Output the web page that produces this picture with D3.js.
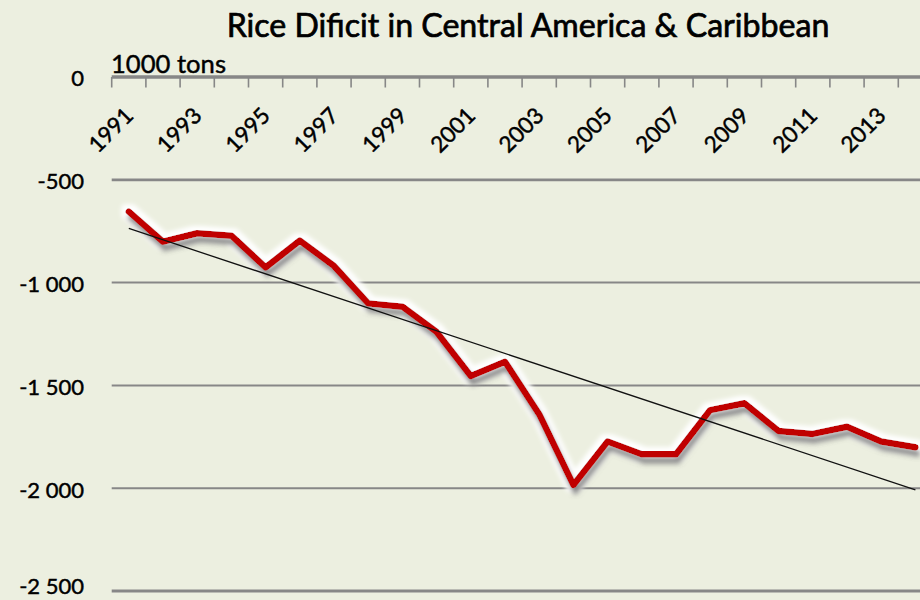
<!DOCTYPE html>
<html>
<head>
<meta charset="utf-8">
<script src="https://cdn.jsdelivr.net/npm/d3@7"></script>
<style>
  html, body { margin: 0; padding: 0; background: #ecefe0; }
  svg { display: block; }
  text { font-family: Lato, "Open Sans", sans-serif; fill: #000; stroke: #000; stroke-width: 0.45px; }
</style>
</head>
<body>
<svg id="chart" width="920" height="600"></svg>
<script>
// ---- data ----
const years = [1991,1992,1993,1994,1995,1996,1997,1998,1999,2000,2001,2002,
               2003,2004,2005,2006,2007,2008,2009,2010,2011,2012,2013,2014];
const deficit = [-655,-801,-760,-772,-926,-796,-919,-1101,-1117,-1240,-1454,-1385,
                 -1640,-1984,-1773,-1835,-1835,-1620,-1587,-1722,-1736,-1701,-1773,-1801];
const yTicks = [0,-500,-1000,-1500,-2000,-2500];
const xLabelYears = [1991,1993,1995,1997,1999,2001,2003,2005,2007,2009,2011,2013];
const titleText = "Rice Dificit in Central America & Caribbean";
const unitText = "1000 tons";

// ---- layout ----
const W = 920, H = 600;
const svg = d3.select("#chart");
svg.append("rect").attr("width", W).attr("height", H).attr("fill", "#ecefe0");

const x = d3.scaleBand().domain(years).range([111.7, 111.7 + 34.2 * years.length]).padding(0);
const y = d3.scaleLinear().domain([-2500, 0]).range([591, 77]);
const cx = d => x(d) + x.bandwidth() / 2;

const loc = d3.formatLocale({decimal: ",", thousands: " ", grouping: [3], currency: ["", ""], minus: "-"});
const fmt = loc.format(",d");

// filter for line shadow/glow
const defs = svg.append("defs");
const f = defs.append("filter").attr("id", "sh")
  .attr("x", "-10%").attr("y", "-20%").attr("width", "120%").attr("height", "140%");
f.append("feMorphology").attr("in", "SourceAlpha").attr("operator", "dilate").attr("radius", 3.5).attr("result", "dil");
f.append("feGaussianBlur").attr("in", "dil").attr("stdDeviation", 2).attr("result", "glowb");
f.append("feFlood").attr("flood-color", "#ffffff").attr("result", "white");
f.append("feComposite").attr("in", "white").attr("in2", "glowb").attr("operator", "in").attr("result", "glow");
f.append("feGaussianBlur").attr("in", "SourceAlpha").attr("stdDeviation", 2.5).attr("result", "b");
f.append("feOffset").attr("in", "b").attr("dx", 2).attr("dy", 6).attr("result", "ob");
f.append("feFlood").attr("flood-color", "#555555").attr("flood-opacity", 0.85).attr("result", "gray");
f.append("feComposite").attr("in", "gray").attr("in2", "ob").attr("operator", "in").attr("result", "shadow");
const m = f.append("feMerge");
m.append("feMergeNode").attr("in", "glow");
m.append("feMergeNode").attr("in", "shadow");
m.append("feMergeNode").attr("in", "SourceGraphic");

// gridlines
const gw = {"0": 3.5, "-500": 2.8, "-2500": 3};
svg.append("g").selectAll("line").data(yTicks).join("line")
  .attr("x1", 111.7).attr("x2", W)
  .attr("y1", d => y(d)).attr("y2", d => y(d))
  .attr("stroke", "#878787")
  .attr("stroke-width", d => gw[String(d)] || 2);

// y axis labels
const yAxis = d3.axisLeft(y).tickValues(yTicks).tickFormat(fmt).tickSize(0).tickPadding(0);
const gy = svg.append("g").attr("transform", "translate(84,1)").call(yAxis);
gy.select(".domain").remove();
gy.selectAll("text").attr("font-size", 22).attr("font-family", "Lato, 'Open Sans', sans-serif")
  .attr("fill", "#000").attr("dy", d => d === -2500 ? "0.05em" : "0.36em");

// x axis ticks at category boundaries (top)
svg.append("g").selectAll("line").data(years).join("line")
  .attr("x1", d => x(d)).attr("x2", d => x(d))
  .attr("y1", 77).attr("y2", 87.5)
  .attr("stroke", "#878787").attr("stroke-width", 1.6);

// x labels
svg.append("g").selectAll("text").data(xLabelYears).join("text")
  .attr("transform", d => `translate(${cx(d) + 6},117) rotate(-45)`)
  .attr("text-anchor", "end")
  .attr("font-size", 22.5)
  .text(d => d);

// red line
const line = d3.line().x((d, i) => cx(years[i])).y(d => y(d));
svg.append("path").datum(deficit)
  .attr("d", line)
  .attr("fill", "none")
  .attr("stroke", "#c00000")
  .attr("stroke-width", 6.5)
  .attr("stroke-linejoin", "round")
  .attr("stroke-linecap", "round")
  .attr("filter", "url(#sh)");

// linear trendline (least squares on the data)
const n = deficit.length;
const mi = d3.mean(d3.range(n)), mv = d3.mean(deficit);
let sxy = 0, sxx = 0;
deficit.forEach((v, i) => { sxy += (i - mi) * (v - mv); sxx += (i - mi) * (i - mi); });
const slope = sxy / sxx, icpt = mv - slope * mi;
svg.append("line")
  .attr("x1", cx(years[0])).attr("y1", y(icpt))
  .attr("x2", cx(years[n - 1])).attr("y2", y(icpt + slope * (n - 1)))
  .attr("stroke", "#111").attr("stroke-width", 1.3);

// title
const t = svg.append("text").attr("x", 528).attr("y", 37).attr("text-anchor", "middle")
  .attr("font-size", 30).style("stroke-width", "0.7px").text(titleText);
const tl = t.node().getComputedTextLength();
t.attr("font-size", 30 * 603 / tl);

// unit label
const u = svg.append("text").attr("x", 111).attr("y", 73).attr("font-size", 22).text(unitText);
const ul = u.node().getComputedTextLength();
u.attr("font-size", 22 * 115 / ul);
</script>
</body>
</html>
